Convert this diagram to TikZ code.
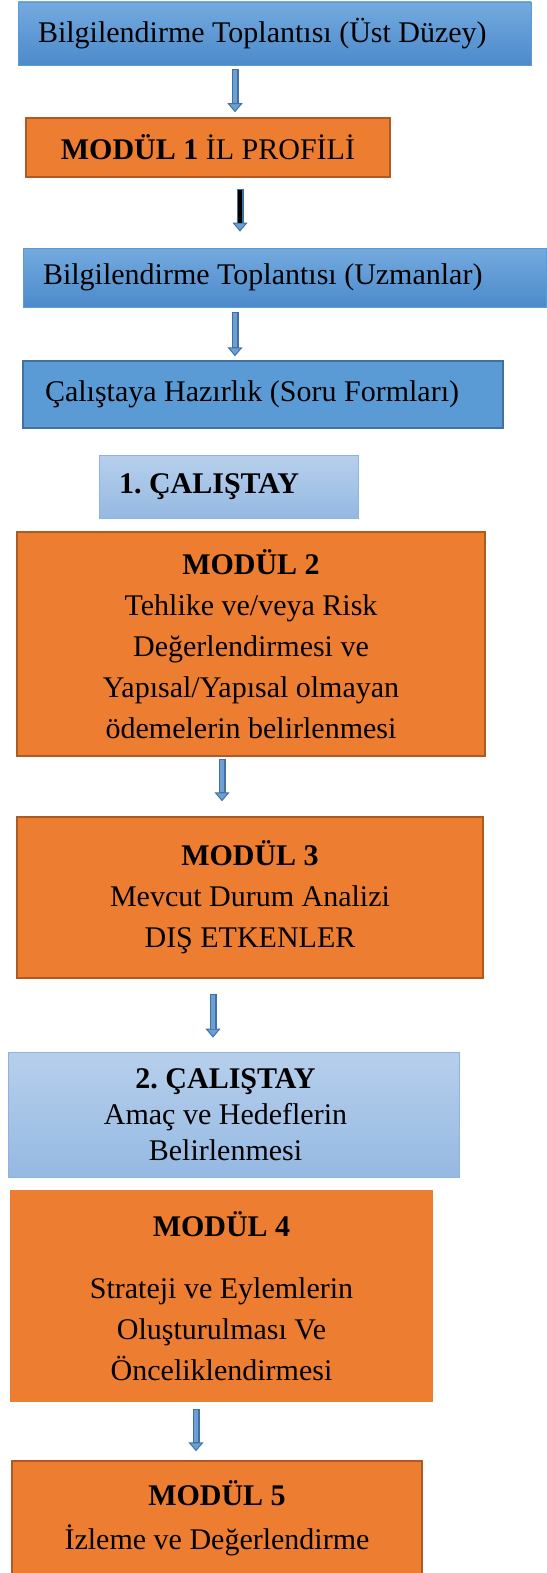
\documentclass[tikz,border=0pt]{standalone}
\usepackage{fontspec}
\setmainfont{Liberation Serif}
\usetikzlibrary{arrows.meta}
\frenchspacing

\definecolor{modOrange}{HTML}{ED7D31}
\definecolor{modEdge}{HTML}{AE5A21}
\definecolor{infoTop}{HTML}{74AADF}
\definecolor{infoBottom}{HTML}{4C8ACB}
\definecolor{infoEdge}{HTML}{5B9BD5}
\definecolor{prepFill}{HTML}{5B9BD5}
\definecolor{prepEdge}{HTML}{41719C}
\definecolor{workTop}{HTML}{B7CFEC}
\definecolor{workBottom}{HTML}{95B9E2}
\definecolor{workEdge}{HTML}{8DB3E2}
\definecolor{arrowFill}{HTML}{6B9FD6}
\definecolor{arrowEdge}{HTML}{41719C}

\begin{document}
\begin{tikzpicture}[x=1pt, y=-1pt,
    boxStyle/.style={rectangle, inner sep=0pt, font=\fontsize{30}{41}\selectfont, align=center},
    infoStyle/.style={boxStyle, top color=infoTop, bottom color=infoBottom, draw=infoEdge, line width=0.8pt, align=flush left, inner xsep=20pt},
    prepStyle/.style={boxStyle, fill=prepFill, draw=prepEdge, line width=1.5pt, align=flush left, inner xsep=22pt},
    workStyle/.style={boxStyle, top color=workTop, bottom color=workBottom, draw=workEdge, line width=0.8pt},
    modStyle/.style={boxStyle, fill=modOrange, draw=modEdge, line width=1.5pt},
    blockArrow/.style={draw=arrowEdge, line width=7pt,
        -{Triangle[width=15pt, length=9pt, line width=1pt, fill=arrowFill]},
        postaction={draw=#1, line width=4pt, -, shorten >=9pt, shorten <=1pt}},
    blockArrow/.default=arrowFill]

    \useasboundingbox (0,0) rectangle (546,1573);

    % Start
    \node[infoStyle, text width=473pt, minimum height=63pt] (info1) at (274.5,33.5) {Bilgilendirme Toplantısı (Üst Düzey)};
    \node[modStyle, minimum width=364pt, minimum height=59pt] (mod1) at (208,147.5) {\textbf{MODÜL 1} İL PROFİLİ};
    \node[infoStyle, text width=483pt, minimum height=59pt] (info2) at (284.5,277.5) {Bilgilendirme Toplantısı (Uzmanlar)};
    \node[prepStyle, text width=436pt, minimum height=67pt] (prep) at (263,394.5) {Çalıştaya Hazırlık (Soru Formları)};

    % First workshop
    \node[workStyle, align=flush left, inner xsep=20pt, text width=219pt, minimum height=63pt] (work1) at (228.5,486.5) {\textbf{1. ÇALIŞTAY}};
    \node[modStyle, minimum width=468pt, minimum height=224pt] (mod2) at (251,644)
        {\textbf{MODÜL 2}\\Tehlike ve/veya Risk\\Değerlendirmesi ve\\Yapısal/Yapısal olmayan\\ödemelerin belirlenmesi};
    \node[modStyle, minimum width=466pt, minimum height=161pt] (mod3) at (250,897.5)
        {\textbf{MODÜL 3}\\Mevcut Durum Analizi\\DIŞ ETKENLER};

    % Second workshop
    \node[workStyle, minimum width=451pt, minimum height=125pt] (work2) at (233.5,1114.5) {};
    \node[font=\fontsize{30}{36}\selectfont, align=center, inner sep=0pt] (work2text) at ([xshift=-8pt]work2.center)
        {\textbf{2. ÇALIŞTAY}\\Amaç ve Hedeflerin\\Belirlenmesi};
    \node[modStyle, draw=none, minimum width=423pt, minimum height=212pt] (mod4) at (221.5,1296)
        {\textbf{MODÜL 4}\\[21pt]Strateji ve Eylemlerin\\Oluşturulması Ve\\Önceliklendirmesi};
    \node[modStyle, font=\fontsize{30}{44}\selectfont, minimum width=410pt, minimum height=114pt] (mod5) at (217,1518)
        {\textbf{MODÜL 5}\\İzleme ve Değerlendirme};

    % Arrows
    \draw[blockArrow] ([yshift=-4pt]info1.south -| 235,0) -- ([yshift=5pt]mod1.north -| 235,0);
    \draw[blockArrow=black] ([yshift=-11pt]mod1.south -| 240,0) -- ([yshift=16pt]info2.north -| 240,0);
    \draw[blockArrow] ([yshift=-5pt]info2.south -| 235,0) -- ([yshift=4pt]prep.north -| 235,0);
    \draw[blockArrow] ([yshift=-2pt]mod2.south -| 222,0) -- ([yshift=15pt]mod3.north -| 222,0);
    \draw[blockArrow] ([yshift=-15pt]mod3.south -| 213,0) -- ([yshift=14pt]work2.north -| 213,0);
    \draw[blockArrow] ([yshift=-6pt]mod4.south -| 196,0) -- ([yshift=9pt]mod5.north -| 196,0);
\end{tikzpicture}
\end{document}
